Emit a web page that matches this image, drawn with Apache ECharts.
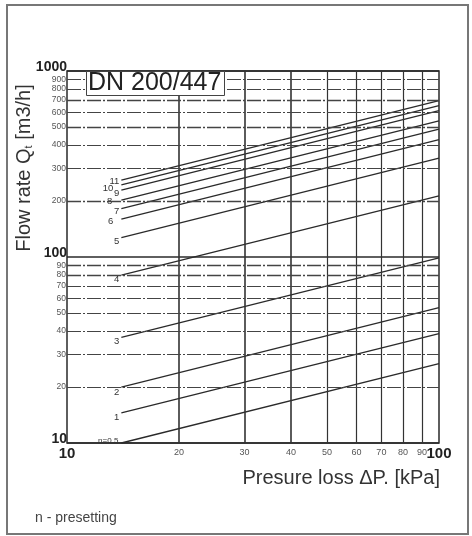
<!DOCTYPE html>
<html>
<head>
<meta charset="utf-8">
<script src="https://cdn.jsdelivr.net/npm/echarts@6/dist/echarts.min.js"></script>
<style>
html,body{margin:0;padding:0;background:#fff;}
#c{width:472px;height:536px;}
</style>
</head>
<body>
<div id="c"></div>
<script>
// ---- data ----
const pressureRange = [14, 100];                 // kPa, start / end of each curve
const presettings = ['n=0.5','1','2','3','4','5','6','7','8','9','10','11'];
const flowAtStart = [10, 14.5, 20, 37, 80, 127, 160, 182, 202, 229, 244, 259];   // m3/h at 14 kPa
const flowAtEnd   = [26.7, 38.7, 53.5, 99, 213, 340, 428, 487, 540, 612, 652, 692]; // m3/h at 100 kPa
const xMinorTicks = [20, 30, 40, 50, 60, 70, 80, 90];
const yMinorTicks = [20, 30, 40, 50, 60, 70, 80, 90, 200, 300, 400, 500, 600, 700, 800, 900];
const xMajorTicks = [10, 100];
const yMajorTicks = [10, 100, 1000];

const FONT = 'Liberation Sans, Arial, sans-serif';
const labelShift = [[-1,-2],[0,4],[0,5],[0,4],[0,4],[0,4],[-6,2],[0,3],[-7,1],[0,3],[-6,3],[0,1]];

const chart = echarts.init(document.getElementById('c'), null, {renderer: 'canvas'});

const markLineData = [];
xMinorTicks.forEach(v => markLineData.push({
  xAxis: v,
  lineStyle: {color: '#333', width: v <= 40 ? 1.6 : 1.2, type: 'solid'},
  label: {show: true, position: 'start', formatter: String(v), fontSize: 9, color: '#555', fontFamily: FONT, distance: 5}
}));
yMinorTicks.forEach(v => markLineData.push({
  yAxis: v,
  lineStyle: {color: '#444', width: (v === 500 || v === 200 || v === 80 || v === 90 || v === 700) ? 1.4 : 1, type: [14, 2, 2, 2]},
  label: {show: true, position: 'start', formatter: String(v), fontSize: 8.5, color: '#555', fontFamily: FONT, distance: 1}
}));

const series = presettings.map((name, i) => ({
  type: 'line',
  name: name,
  data: [[pressureRange[0], flowAtStart[i]], [pressureRange[1], flowAtEnd[i]]],
  showSymbol: true,
  symbol: 'circle',
  symbolSize: 0,
  itemStyle: {color: 'rgba(0,0,0,0)'},
  lineStyle: {color: '#2a2a2a', width: 1.3},
  label: {
    show: true,
    position: 'left',
    distance: 2,
    offset: labelShift[i],
    fontSize: name.length > 2 ? 8 : 9.5,
    color: '#333',
    fontFamily: FONT,
    formatter: p => p.dataIndex === 0 ? name : ''
  },
  markLine: i === 0 ? {silent: true, symbol: ['none', 'none'], animation: false, data: markLineData} : undefined,
  z: 3
}));

chart.setOption({
  animation: false,
  backgroundColor: '#fff',
  grid: {left: 67, top: 71, right: 33, bottom: 93, show: true, borderColor: '#2a2a2a', borderWidth: 1.5, backgroundColor: 'transparent'},
  title: {
    text: 'DN 200/447',
    left: 86, top: 71,
    padding: [0, 3, 0, 2],
    borderColor: '#444', borderWidth: 1, backgroundColor: '#fff',
    textStyle: {fontSize: 25, fontWeight: 'normal', color: '#222', fontFamily: FONT, lineHeight: 25}
  },
  xAxis: {
    type: 'log', logBase: 10, min: 10, max: 100,
    axisLine: {show: false}, axisTick: {show: false},
    splitLine: {show: false},
    axisLabel: {
      fontSize: 15, fontWeight: 'bold', color: '#222', fontFamily: FONT, margin: 3,
      formatter: v => xMajorTicks.includes(Math.round(v)) ? String(Math.round(v)) : ''
    }
  },
  yAxis: {
    type: 'log', logBase: 10, min: 10, max: 1000,
    axisLine: {show: false}, axisTick: {show: false},
    splitLine: {show: true, lineStyle: {color: '#2a2a2a', width: 1.6}},
    axisLabel: {
      fontSize: 14, fontWeight: 'bold', color: '#222', fontFamily: FONT, margin: 0,
      verticalAlign: 'bottom', padding: [0, 0, -3, 0],
      formatter: v => yMajorTicks.includes(Math.round(v)) ? String(Math.round(v)) : ''
    }
  },
  graphic: [
    {type: 'rect', shape: {x: 7, y: 5, width: 461, height: 529}, style: {fill: 'none', stroke: '#777', lineWidth: 2}, silent: true},
    {type: 'text', x: 24, y: 168, rotation: Math.PI / 2,
      style: {text: 'Flow rate Q{s|t} [m3/h]', rich: {s: {fontSize: 11, padding: [9, 0, 0, 0], fill: '#333'}},
        fontSize: 20, fontFamily: FONT, fill: '#333', align: 'center', verticalAlign: 'middle'}},
    {type: 'text', x: 440, y: 478,
      style: {text: 'Presure loss \u0394P. [kPa]', fontSize: 20, fontFamily: FONT, fill: '#333', align: 'right', verticalAlign: 'middle'}},
    {type: 'text', x: 35, y: 518,
      style: {text: 'n - presetting', fontSize: 14, fontFamily: FONT, fill: '#444', align: 'left', verticalAlign: 'middle'}}
  ],
  series: series
});
</script>
</body>
</html>
